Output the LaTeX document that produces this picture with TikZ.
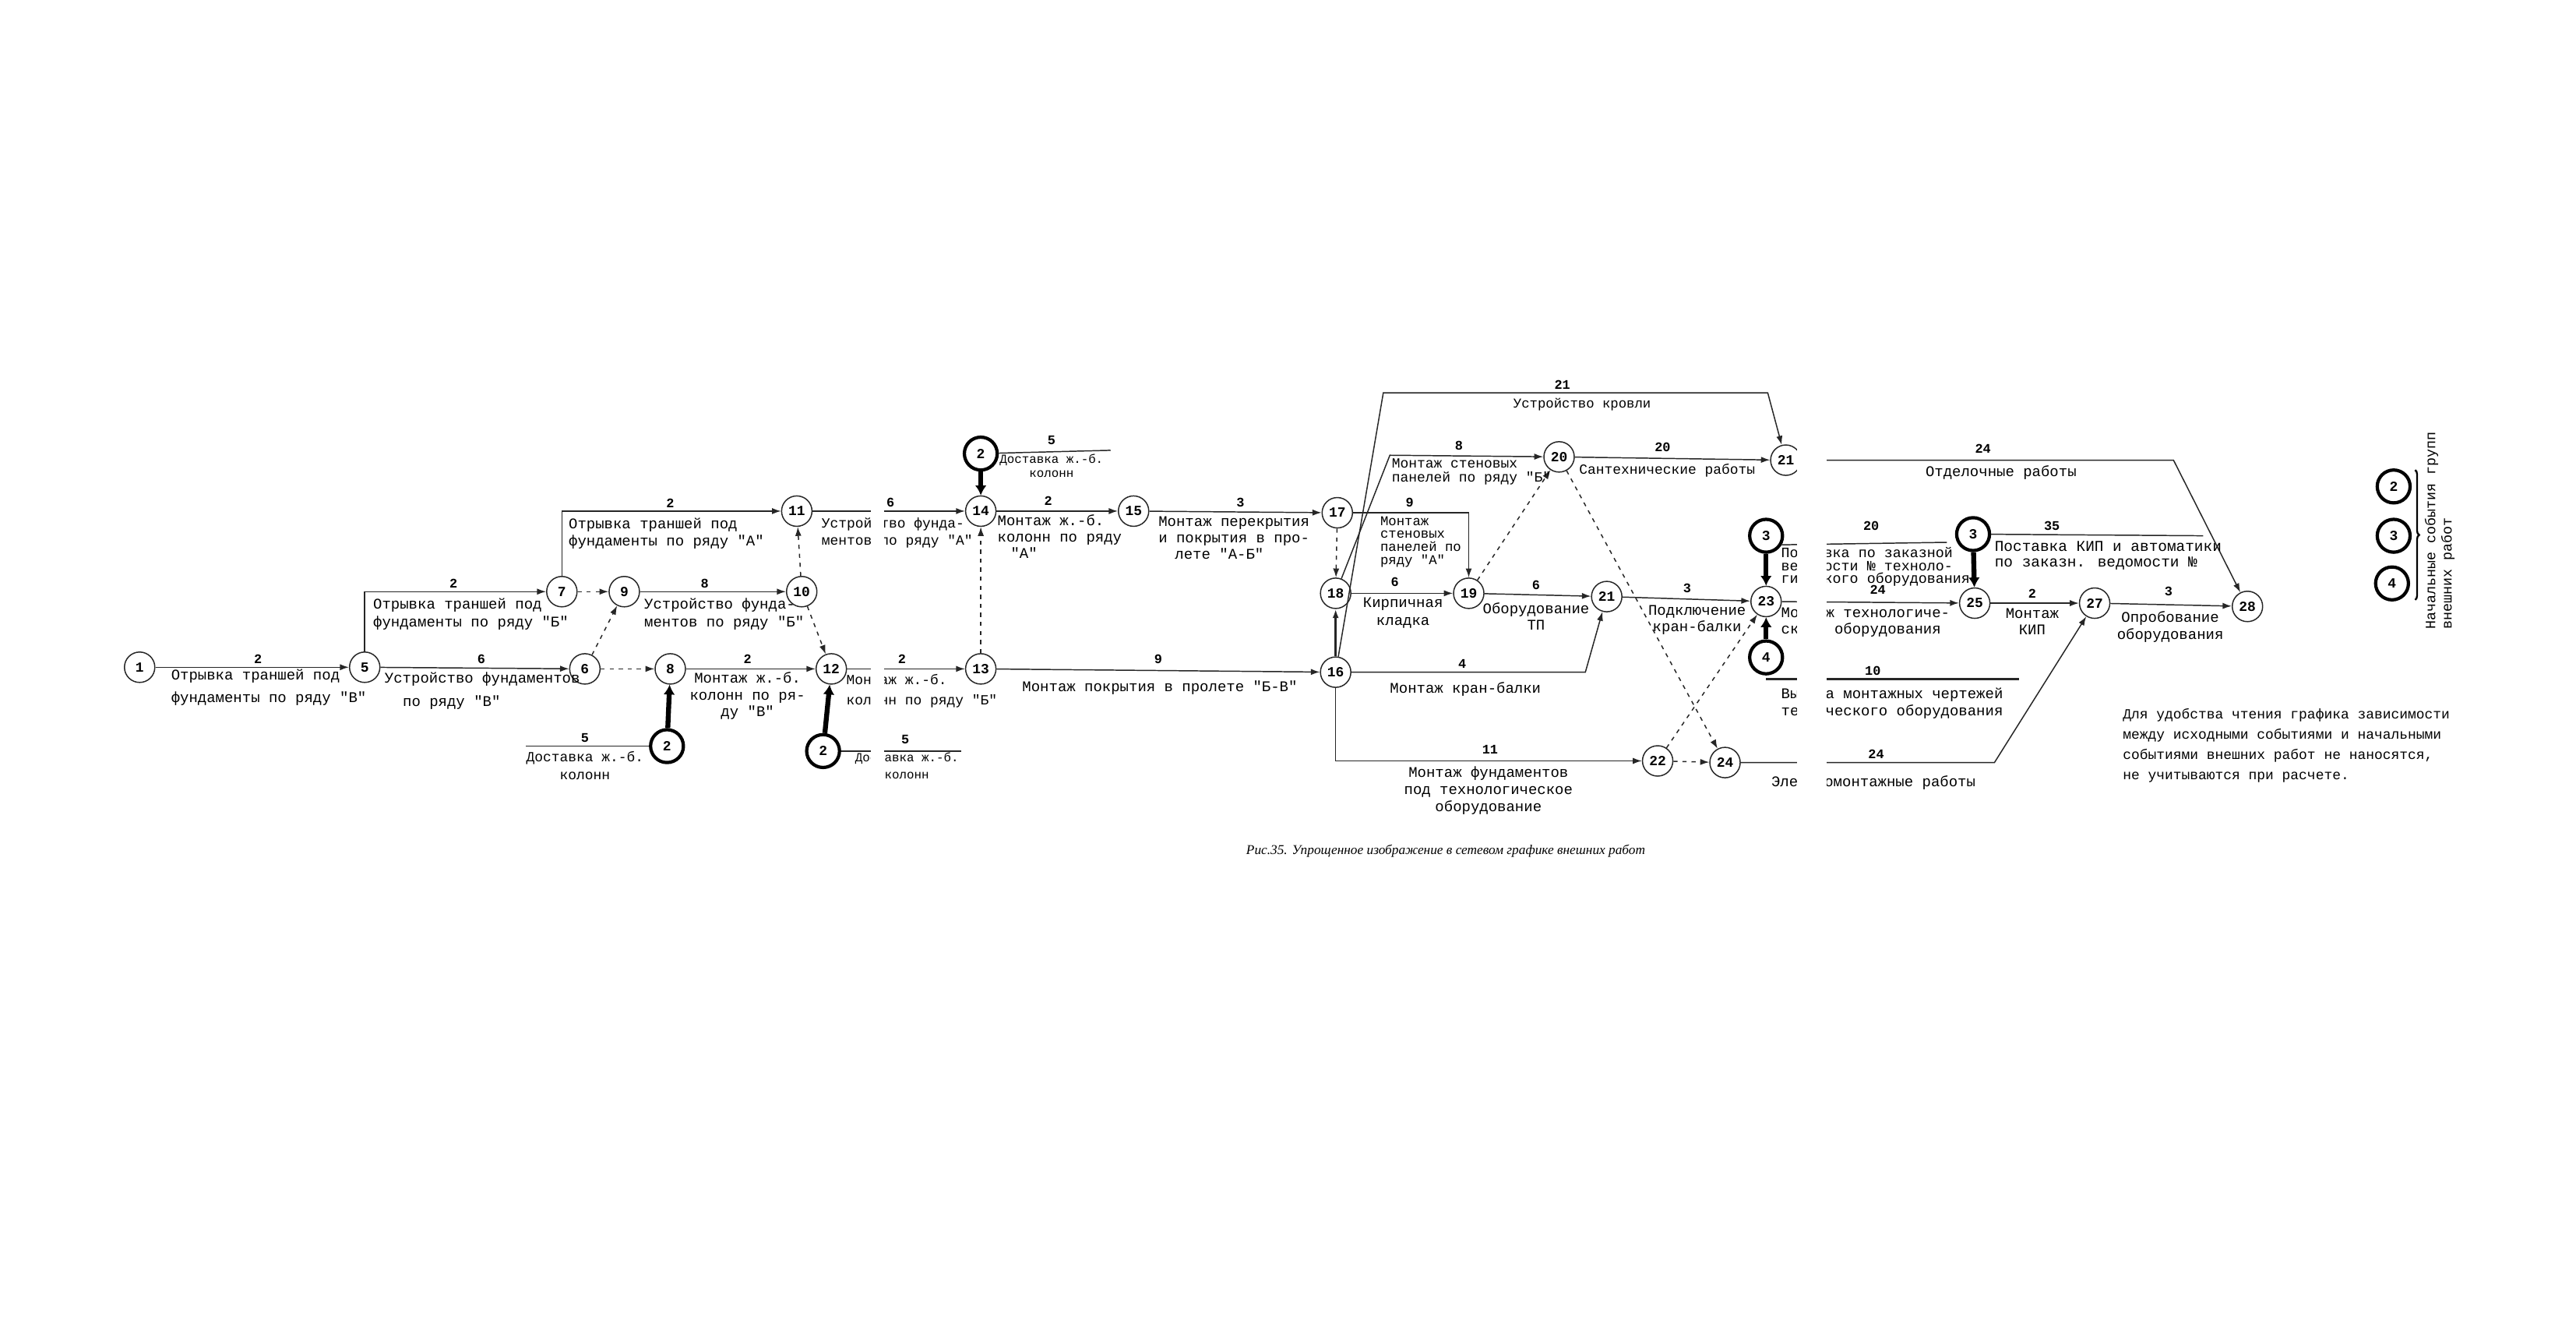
\documentclass[tikz,border=0pt]{standalone}
\usepackage{fontspec}
\setmainfont{Liberation Serif}
\newfontfamily\tw{Liberation Mono}
\newfontfamily\capf{Liberation Serif}
\usetikzlibrary{arrows.meta,decorations.pathreplacing}
\newcommand\mytf[2]{\tw\fontsize{#1}{#2}\selectfont\lineskiplimit=-30pt\lineskip=0pt}
\begin{document}
\begin{tikzpicture}[x=1pt,y=-1pt,
  ev/.style={circle,draw=black!85,line width=0.7pt,minimum size=18.5pt,inner sep=0pt,font=\mytf{8.5}{9}\bfseries},
  bev/.style={ev,draw=black,line width=2pt,minimum size=20pt},
  wk/.style={line width=0.7pt,draw=black!85,-{Latex[length=5.5pt,width=3.8pt]}},
  ln/.style={line width=0.7pt,draw=black!85},
  dsh/.style={wk,dash pattern=on 2.5pt off 3pt},
  thk/.style={line width=3pt,draw=black,-{Latex[length=6pt,width=7pt]}},
  dur/.style={inner sep=0pt,font=\mytf{8}{8}\bfseries},
  lbl/.style={inner sep=0pt,align=left,anchor=north west,font=\mytf{9}{10.5}},
  lblc/.style={lbl,align=center,anchor=north}]
\useasboundingbox (0,0) rectangle (1568,807);
\fill[white] (0,0) rectangle (1568,807);

% ---------- events ----------
\node[ev] (n1) at (85,406) {1};
\node[ev] (n5) at (222,406) {5};
\node[ev] (n7) at (342,360) {7};
\node[ev] (n9) at (380,360) {9};
\node[ev] (n6) at (356,407) {6};
\node[ev] (n8) at (408,407) {8};
\node[ev] (n11) at (485,311) {11};
\node[ev] (n10) at (488,360) {10};
\node[ev] (n12) at (506,407) {12};
\node[bev] (e2a) at (406,454) {2};
\node[bev] (e2b) at (501,457) {2};
\node[ev] (n14) at (597,311) {14};
\node[bev] (e2c) at (597,276) {2};
\node[ev] (n13) at (597,407) {13};
\node[ev] (n15) at (690,311) {15};
\node[ev] (n17) at (814,312) {17};
\node[ev] (n18) at (813,361) {18};
\node[ev] (n16) at (813,409) {16};
\node[ev] (n19) at (894,361) {19};
\node[ev] (n20) at (949,278) {20};
\node[ev] (n21) at (978,363) {21};
\node[ev] (n21b) at (1087,280) {21};
\node[ev] (n22) at (1009,463) {22};
\node[ev] (n24) at (1050,464) {24};
\node[ev] (n23) at (1075,366) {23};
\node[bev] (e3a) at (1075,326) {3};
\node[bev] (e4a) at (1075,400) {4};
\node[bev] (e3b) at (1201,325) {3};
\node[ev] (n25) at (1202,367) {25};
\node[ev] (n27) at (1275,367) {27};
\node[ev] (n28) at (1368,369) {28};

% ---------- free ends / bends ----------
\coordinate (c13) at (320,454);
\coordinate (c17) at (585,457);
\coordinate (c20) at (676,274);
\coordinate (c25) at (846,277);
\coordinate (c26) at (842,239);
\coordinate (c26b) at (1076,239);
\coordinate (c30) at (965,409);
\coordinate (c42) at (1185,330);
\coordinate (c44) at (1341,326);
\coordinate (c45) at (1323,280);
\coordinate (c48a) at (1075,413);
\coordinate (c48b) at (1229,413);
\coordinate (c49) at (1214,464);

% ---------- works ----------
\draw[wk] (n1) -- (n5);
\draw[wk] (n5) |- (n7);
\draw[wk] (n7) |- (n11);
\draw[wk] (n5) -- (n6);
\draw[dsh] (n7) -- (n9);
\draw[dsh] (n6) -- (n9);
\draw[wk] (n9) -- (n10);
\draw[dsh] (n10) -- (n11);
\draw[dsh] (n10) -- (n12);
\draw[dsh] (n6) -- (n8);
\draw[wk] (n8) -- (n12);
\draw[thk] (e2a) -- (n8);
\draw[ln] (e2a) -- (c13);
\draw[wk] (n11) -- (n14);
\draw[wk] (n12) -- (n13);
\draw[thk] (e2b) -- (n12);
\draw[ln] (e2b) -- (c17);
\draw[dsh] (n13) -- (n14);
\draw[thk] (e2c) -- (n14);
\draw[ln] (e2c) -- (c20);
\draw[wk] (n14) -- (n15);
\draw[wk] (n15) -- (n17);
\draw[wk] (n13) -- (n16);
\draw[dsh] (n17) -- (n18);
\draw[wk,line width=1.3pt] (n16) -- (n18);
\draw[wk] (n17) -| (n19);
\draw[wk] (n18) -- (n19);
\draw[wk] (n18) -- (c25) -- (n20);
\draw[wk] (n16) -- (c26) -- (c26b) -- (n21b);
\draw[wk] (n20) -- (n21b);
\draw[wk] (n19) -- (n21);
\draw[dsh] (n19) -- (n20);
\draw[dsh] (n20) -- (n24);
\draw[wk] (n16) -- (c30) -- (n21);
\draw[wk] (n16) |- (n22);
\draw[dsh] (n22) -- (n24);
\draw[dsh] (n22) -- (n23);
\draw[wk] (n21) -- (n23);
\draw[thk] (e3a) -- (n23);
\draw[thk] (e4a) -- (n23);
\draw[ln] (e3a.-30) -- (c42);
\draw[wk] (n23) -- (n25);
\draw[thk] (e3b) -- (n25);
\draw[ln] (e3b) -- (c44);
\draw[wk] (n21b) -- (c45) -- (n28);
\draw[wk] (n25) -- (n27);
\draw[wk] (n27) -- (n28);
\draw[ln,line width=1.4pt] (c48a) -- (c48b);
\draw[wk] (n24) -- (c49) -- (n27);

% ---------- durations ----------
\node[dur] (d1) at (157,401) {2};
\node[dur] (d2) at (276,355) {2};
\node[dur] (d3) at (408,306) {2};
\node[dur] (d4) at (293,401) {6};
\node[dur] (d7) at (429,355) {8};
\node[dur] (d11) at (455,401) {2};
\node[dur] (d13) at (356,449) {5};
\node[dur] (d14) at (542,306) {6};
\node[dur] (d15) at (549,401) {2};
\node[dur] (d17) at (551,450) {5};
\node[dur] (d20) at (640,268) {5};
\node[dur] (d21) at (638,305) {2};
\node[dur] (d22) at (755,306) {3};
\node[dur] (d23) at (705,401) {9};
\node[dur] (d24) at (858,306) {9};
\node[dur] (d25) at (888,271) {8};
\node[dur] (d26) at (951,234) {21};
\node[dur] (d27) at (1012,272) {20};
\node[dur] (d28) at (849,354) {6};
\node[dur] (d29) at (935,356) {6};
\node[dur] (d30) at (890,404) {4};
\node[dur] (d33) at (907,456) {11};
\node[dur] (d38) at (1027,358) {3};
\node[dur] (d41) at (1143,359) {24};
\node[dur] (d42) at (1139,320) {20};
\node[dur] (d44) at (1249,320) {35};
\node[dur] (d45) at (1207,273) {24};
\node[dur] (d46) at (1237,361) {2};
\node[dur] (d47) at (1320,360) {3};
\node[dur] (d48) at (1140,408) {10};
\node[dur] (d49) at (1142,459) {24};

% ---------- work texts ----------
\node[lbl,font=\mytf{9}{14}] (t1) at (104,407) {Отрывка траншей под\\фундаменты по ряду "В"};
\node[lbl,font=\mytf{9}{11}] (t2) at (227,364) {Отрывка траншей под\\фундаменты по ряду "Б"};
\node[lbl] (t3) at (346,315) {Отрывка траншей под\\фундаменты по ряду "А"};
\node[lbl,font=\mytf{9}{14}] (t4) at (234,409) {Устройство фундаментов\\\hspace*{11pt}по ряду "В"};
\node[lbl] (t7) at (392,364) {Устройство фунда-\\ментов по ряду "Б"};
\node[lblc,font=\mytf{9}{10}] (t11) at (455,409) {Монтаж ж.-б.\\колонн по ря-\\ду "В"};
\node[lblc,font=\mytf{8.5}{11}] (t13) at (356,457) {Доставка ж.-б.\\колонн};
\node[lbl,font=\mytf{8.5}{10.5}] (t14) at (500,315) {Устройство фунда-\\ментов по ряду "А"};
\node[lbl,font=\mytf{8.5}{12.5}] (t15) at (515,410) {Монтаж ж.-б.\\колонн по ряду "Б"};
\node[lblc,font=\mytf{7.5}{10}] (t17) at (552,458) {Доставка ж.-б.\\колонн};
\node[lblc,font=\mytf{7.5}{8.5}] (t20) at (640,276) {Доставка ж.-б.\\колонн};
\node[lbl,font=\mytf{9}{10}] (t21) at (607,313) {Монтаж ж.-б.\\колонн по ряду\\\hspace*{8pt}"А"};
\node[lbl,font=\mytf{9}{10}] (t22) at (705,314) {Монтаж перекрытия\\и покрытия в про-\\\hspace*{10pt}лете "А-Б"};
\node[lblc] (t23) at (706,414) {Монтаж покрытия в пролете "Б-В"};
\node[lbl,font=\mytf{8.2}{8}] (t24) at (840,314) {Монтаж\\стеновых\\панелей по\\ряду "А"};
\node[lbl,font=\mytf{8.5}{8.5}] (t25) at (847,279) {Монтаж стеновых\\панелей по ряду "Б"};
\node[lbl,font=\mytf{8.2}{9}] (t26) at (921,242) {Устройство кровли};
\node[lbl,font=\mytf{8.5}{9}] (t27) at (961,282) {Сантехнические работы};
\node[lblc,font=\mytf{9}{11}] (t28) at (854,363.5) {Кирпичная\\кладка};
\node[lblc,font=\mytf{9}{10}] (t29) at (935,366.5) {Оборудование\\ТП};
\node[lblc] (t30) at (892,415) {Монтаж кран-балки};
\node[lblc] (t33) at (906,466) {Монтаж фундаментов\\под технологическое\\оборудование};
\node[lblc,font=\mytf{9}{10}] (t38) at (1033,368) {Подключение\\кран-балки};
\node[lbl,font=\mytf{9}{10}] (t41) at (1084,369.5) {Монтаж технологиче-\\ского оборудования};
\node[lbl,font=\mytf{8.7}{7.8}] (t42) at (1084,333) {Поставка по заказной\\ведомости № техноло-\\гического оборудования};
\node[lbl,font=\mytf{9.2}{9.5}] (t44) at (1214,329) {Поставка КИП и автоматики\\по заказн. ведомости №};
\node[lblc] (t45) at (1218,283) {Отделочные работы};
\node[lblc,font=\mytf{9}{10}] (t46) at (1237,370) {Монтаж\\КИП};
\node[lblc,font=\mytf{9}{10}] (t47) at (1321,372) {Опробование\\оборудования};
\node[lbl] (t48) at (1084,418.5) {Выдача монтажных чертежей\\технического оборудования};
\node[lbl] (t49) at (1078,472) {Электромонтажные работы};

% ---------- scan gaps ----------
\fill[white] (530,230) rectangle (538,500);
\fill[white] (1094,230) rectangle (1112,500);

% ---------- legend ----------
\node[bev] (L2) at (1457,296) {2};
\node[bev] (L3) at (1457,326) {3};
\node[bev] (L4) at (1456,355) {4};
\draw[line width=1.1pt,decorate,decoration={brace,amplitude=2.5pt}] (1470,286) -- (1470,365);
\node[inner sep=0pt,rotate=90,anchor=west,font=\mytf{8.7}{9}] (lg1) at (1480,383) {Начальные события групп};
\node[inner sep=0pt,rotate=90,anchor=west,font=\mytf{8.7}{9}] (lg2) at (1490,383) {внешних работ};

% ---------- note and caption ----------
\node[lbl,font=\mytf{8.5}{12.3}] (note) at (1292,431) {Для удобства чтения графика зависимости\\между исходными событиями и начальными\\событиями внешних работ не наносятся,\\не учитываются при расчете.};
\node[inner sep=0pt,font=\capf\itshape\fontsize{8.2}{9}\selectfont] (cap) at (880,518) {Рис.35. Упрощенное изображение в сетевом графике внешних работ};
\end{tikzpicture}
\end{document}
